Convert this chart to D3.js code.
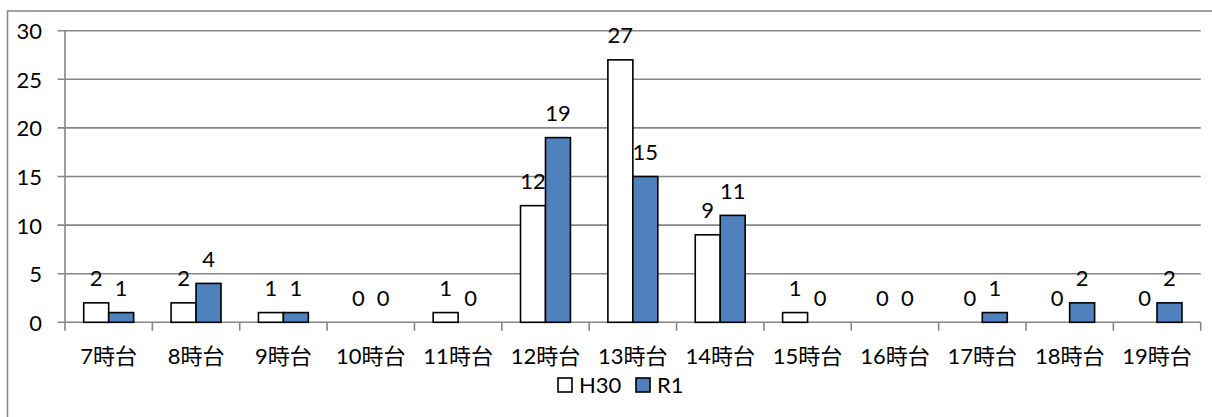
<!DOCTYPE html>
<html>
<head>
<meta charset="utf-8">
<script src="https://cdn.jsdelivr.net/npm/d3@7"></script>
<style>
  html, body { margin: 0; padding: 0; background: #fff; }
  svg { display: block; }
  text { font-family: Lato, "Noto Sans CJK JP", sans-serif; font-size: 22px; fill: #000; }
</style>
</head>
<body>
<svg id="chart" width="1212" height="417"></svg>
<script>
// Hourly counts per time slot, two survey years
const categories = ["7時台", "8時台", "9時台", "10時台", "11時台", "12時台", "13時台", "14時台", "15時台", "16時台", "17時台", "18時台", "19時台"];
const seriesNames = ["H30", "R1"];
const valuesH30 = [2, 2, 1, 0, 1, 12, 27, 9, 1, 0, 0, 0, 0];
const valuesR1 = [1, 4, 1, 0, 0, 19, 15, 11, 0, 0, 1, 2, 2];
const yTicks = [0, 5, 10, 15, 20, 25, 30];

const fills = { H30: "#ffffff", R1: "#4f81bd" };
const gridColor = "#868686";

const svg = d3.select("#chart");
const W = 1212, H = 417;
const plot = { left: 65, right: 1200.7, top: 30.7, bottom: 322.3 };

// Outer chart frame
svg.append("rect")
  .attr("x", 7.5).attr("y", 11)
  .attr("width", W + 10).attr("height", H + 10)
  .attr("fill", "none").attr("stroke", gridColor).attr("stroke-width", 1.5);

const x0 = d3.scaleBand().domain(categories).range([plot.left, plot.right]).padding(0);
const bw = x0.bandwidth();
const barW = bw / 3.5;           // two bars plus a 150% gap
const x1 = d3.scaleBand().domain(seriesNames)
  .range([(bw - 2 * barW) / 2, (bw + 2 * barW) / 2]).padding(0);
const y = d3.scaleLinear().domain([0, 30]).range([plot.bottom, plot.top]);

// Horizontal gridlines
svg.append("g").selectAll("line").data(yTicks).join("line")
  .attr("x1", plot.left - 7.5).attr("x2", plot.right)
  .attr("y1", d => y(d)).attr("y2", d => y(d))
  .attr("stroke", gridColor).attr("stroke-width", 1.6);

// Value axis
const yAxis = svg.append("g").attr("transform", `translate(${plot.left},0)`)
  .call(d3.axisLeft(y).tickValues(yTicks).tickSize(0).tickPadding(23));
yAxis.select(".domain").remove();
svg.append("line")
  .attr("x1", plot.left).attr("x2", plot.left)
  .attr("y1", plot.top).attr("y2", plot.bottom)
  .attr("stroke", gridColor).attr("stroke-width", 1.6);
yAxis.selectAll("text")
  .attr("dy", null).attr("y", 8)
  .style("font-family", "Lato, sans-serif").style("font-size", "22px").attr("fill", "#000");

// Category axis
const xAxis = svg.append("g").attr("transform", `translate(0,${plot.bottom})`)
  .call(d3.axisBottom(x0).tickSize(0).tickPadding(0));
xAxis.select(".domain").remove();
xAxis.selectAll("text")
  .attr("dy", null).attr("y", 42)
  .style("font-family", "Lato, 'Noto Sans CJK JP', sans-serif").style("font-size", "22px").attr("fill", "#000");
const bounds = categories.map(c => x0(c)).concat([plot.right]);
svg.append("g").selectAll("line").data(bounds).join("line")
  .attr("x1", d => d).attr("x2", d => d)
  .attr("y1", plot.bottom).attr("y2", plot.bottom + 8.5)
  .attr("stroke", gridColor).attr("stroke-width", 1.6);

// Bars
const rows = categories.map((c, i) => ({
  cat: c,
  vals: [{ s: "H30", v: valuesH30[i] }, { s: "R1", v: valuesR1[i] }]
}));
const groups = svg.append("g").selectAll("g").data(rows).join("g")
  .attr("transform", d => `translate(${x0(d.cat)},0)`);
groups.selectAll("rect").data(d => d.vals.filter(e => e.v > 0)).join("rect")
  .attr("x", d => x1(d.s)).attr("width", x1.bandwidth())
  .attr("y", d => y(d.v)).attr("height", d => y(0) - y(d.v))
  .attr("fill", d => fills[d.s]).attr("stroke", "#000").attr("stroke-width", 1.6);

// Value labels
groups.selectAll("text.val").data(d => d.vals).join("text")
  .attr("class", "val")
  .attr("x", d => x1(d.s) + x1.bandwidth() / 2)
  .attr("y", d => y(d.v) - 16.5)
  .attr("text-anchor", "middle")
  .text(d => d.v);

// Legend
const legend = svg.append("g");
const legendItems = [{ s: "H30", x: 558 }, { s: "R1", x: 636 }];
legendItems.forEach(it => {
  legend.append("rect").attr("x", it.x).attr("y", 378).attr("width", 14).attr("height", 14)
    .attr("fill", fills[it.s]).attr("stroke", "#000").attr("stroke-width", 1.6);
  legend.append("text").attr("x", it.x + 21).attr("y", 393).text(it.s);
});
</script>
</body>
</html>
